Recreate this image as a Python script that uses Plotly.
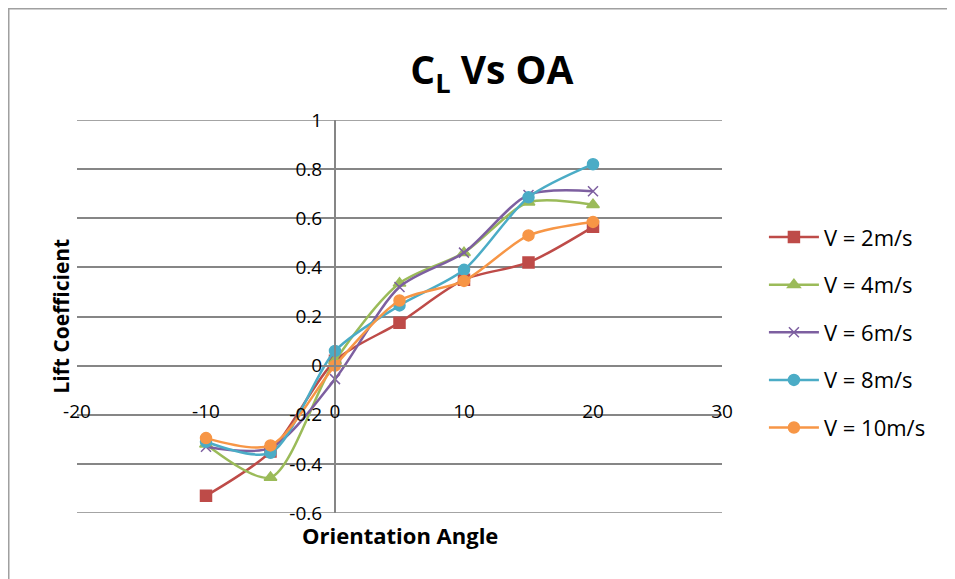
import plotly.graph_objects as go

angles = [-10, -5, 0, 5, 10, 15, 20]

cl_v2 = [-0.53, -0.35, 0.02, 0.175, 0.35, 0.42, 0.565]
cl_v4 = [-0.32, -0.455, 0.02, 0.335, 0.46, 0.665, 0.655]
cl_v6 = [-0.33, -0.335, -0.055, 0.32, 0.46, 0.695, 0.71]
cl_v8 = [-0.31, -0.355, 0.06, 0.245, 0.39, 0.685, 0.82]
cl_v10 = [-0.295, -0.325, 0.0, 0.265, 0.345, 0.53, 0.585]

x_ticks = [-20, -10, 0, 10, 20, 30]
x_labels = ["-20", "-10", "0", "10", "20", "30"]
y_ticks = [-0.6, -0.4, -0.2, 0, 0.2, 0.4, 0.6, 0.8, 1]
y_labels = ["-0.6", "-0.4", "-0.2", "0", "0.2", "0.4", "0.6", "0.8", "1"]

series = [
    ("V = 2m/s", cl_v2, "#BE4B48", "square"),
    ("V = 4m/s", cl_v4, "#9BBB59", "triangle-up"),
    ("V = 6m/s", cl_v6, "#7D5FA0", "x-thin"),
    ("V = 8m/s", cl_v8, "#4BACC6", "circle"),
    ("V = 10m/s", cl_v10, "#F79646", "circle"),
]

FONT = "'Open Sans', Lato, sans-serif"
GRID = "#868686"

fig = go.Figure()
for i, (name, vals, color, sym) in enumerate(series):
    fig.add_trace(go.Scatter(
        x=angles, y=vals, name=name, mode="lines+markers",
        legendgroup=str(i),
        line=dict(color=color, width=2.5, shape="spline", smoothing=0.8),
        marker=dict(color=color, symbol=sym, size=11 if sym != "x-thin" else 10,
                    line=dict(color=color, width=1.5)),
    ))

# the page has an 8px body margin, so the figure is a bit smaller
fig.update_layout(
    width=947, height=571,
    margin=dict(l=69, r=233, t=112, b=66, autoexpand=False),
    paper_bgcolor="white", plot_bgcolor="white",
    font=dict(family=FONT, size=19, color="black"),
    showlegend=True,
    legend=dict(x=1.065, y=0.755, yanchor="top", xanchor="left",
                tracegroupgap=16, font=dict(size=22),
                itemwidth=50),
    title=dict(text="<b>C<sub>L</sub> Vs OA</b>", x=0.511, xanchor="center",
               y=0.89, yanchor="middle", font=dict(size=39, family=FONT)),
)

fig.update_xaxes(
    range=[-20, 30], tickvals=x_ticks, ticktext=x_labels,
    showgrid=False, zeroline=False,
    showline=True, linecolor=GRID, linewidth=2,
    anchor="free", position=0.374, ticks="", ticklabelstandoff=28,
)
fig.update_yaxes(
    range=[-0.6, 1.0], tickvals=y_ticks, ticktext=y_labels,
    showgrid=True, gridcolor=GRID, gridwidth=1.5,
    zeroline=False, showline=True, linecolor=GRID, linewidth=2,
    anchor="free", position=0.4, ticks="", ticklabelstandoff=8,
)

# top and bottom gridlines (plotly drops the ones on the range edges)
for yv in (y_ticks[0], y_ticks[-1]):
    fig.add_shape(type="line", xref="paper", yref="y", x0=0, x1=1, y0=yv, y1=yv,
                  line=dict(color=GRID, width=1.5), layer="below")

fig.add_annotation(text="<b>Lift Coefficient</b>", xref="paper", yref="paper",
                   x=-0.026, y=0.5, textangle=-90, showarrow=False,
                   xanchor="center", yanchor="middle", font=dict(size=21))
fig.add_annotation(text="<b>Orientation Angle</b>", xref="paper", yref="paper",
                   x=0.5, y=-0.055, showarrow=False,
                   xanchor="center", yanchor="middle", font=dict(size=22))

# chart border
fig.add_shape(type="rect", xref="paper", yref="paper",
              x0=-0.1058, x1=1.4, y0=-0.2, y1=1.2831,
              line=dict(color="#A0A0A0", width=1.5))

fig.write_html("out.html")
